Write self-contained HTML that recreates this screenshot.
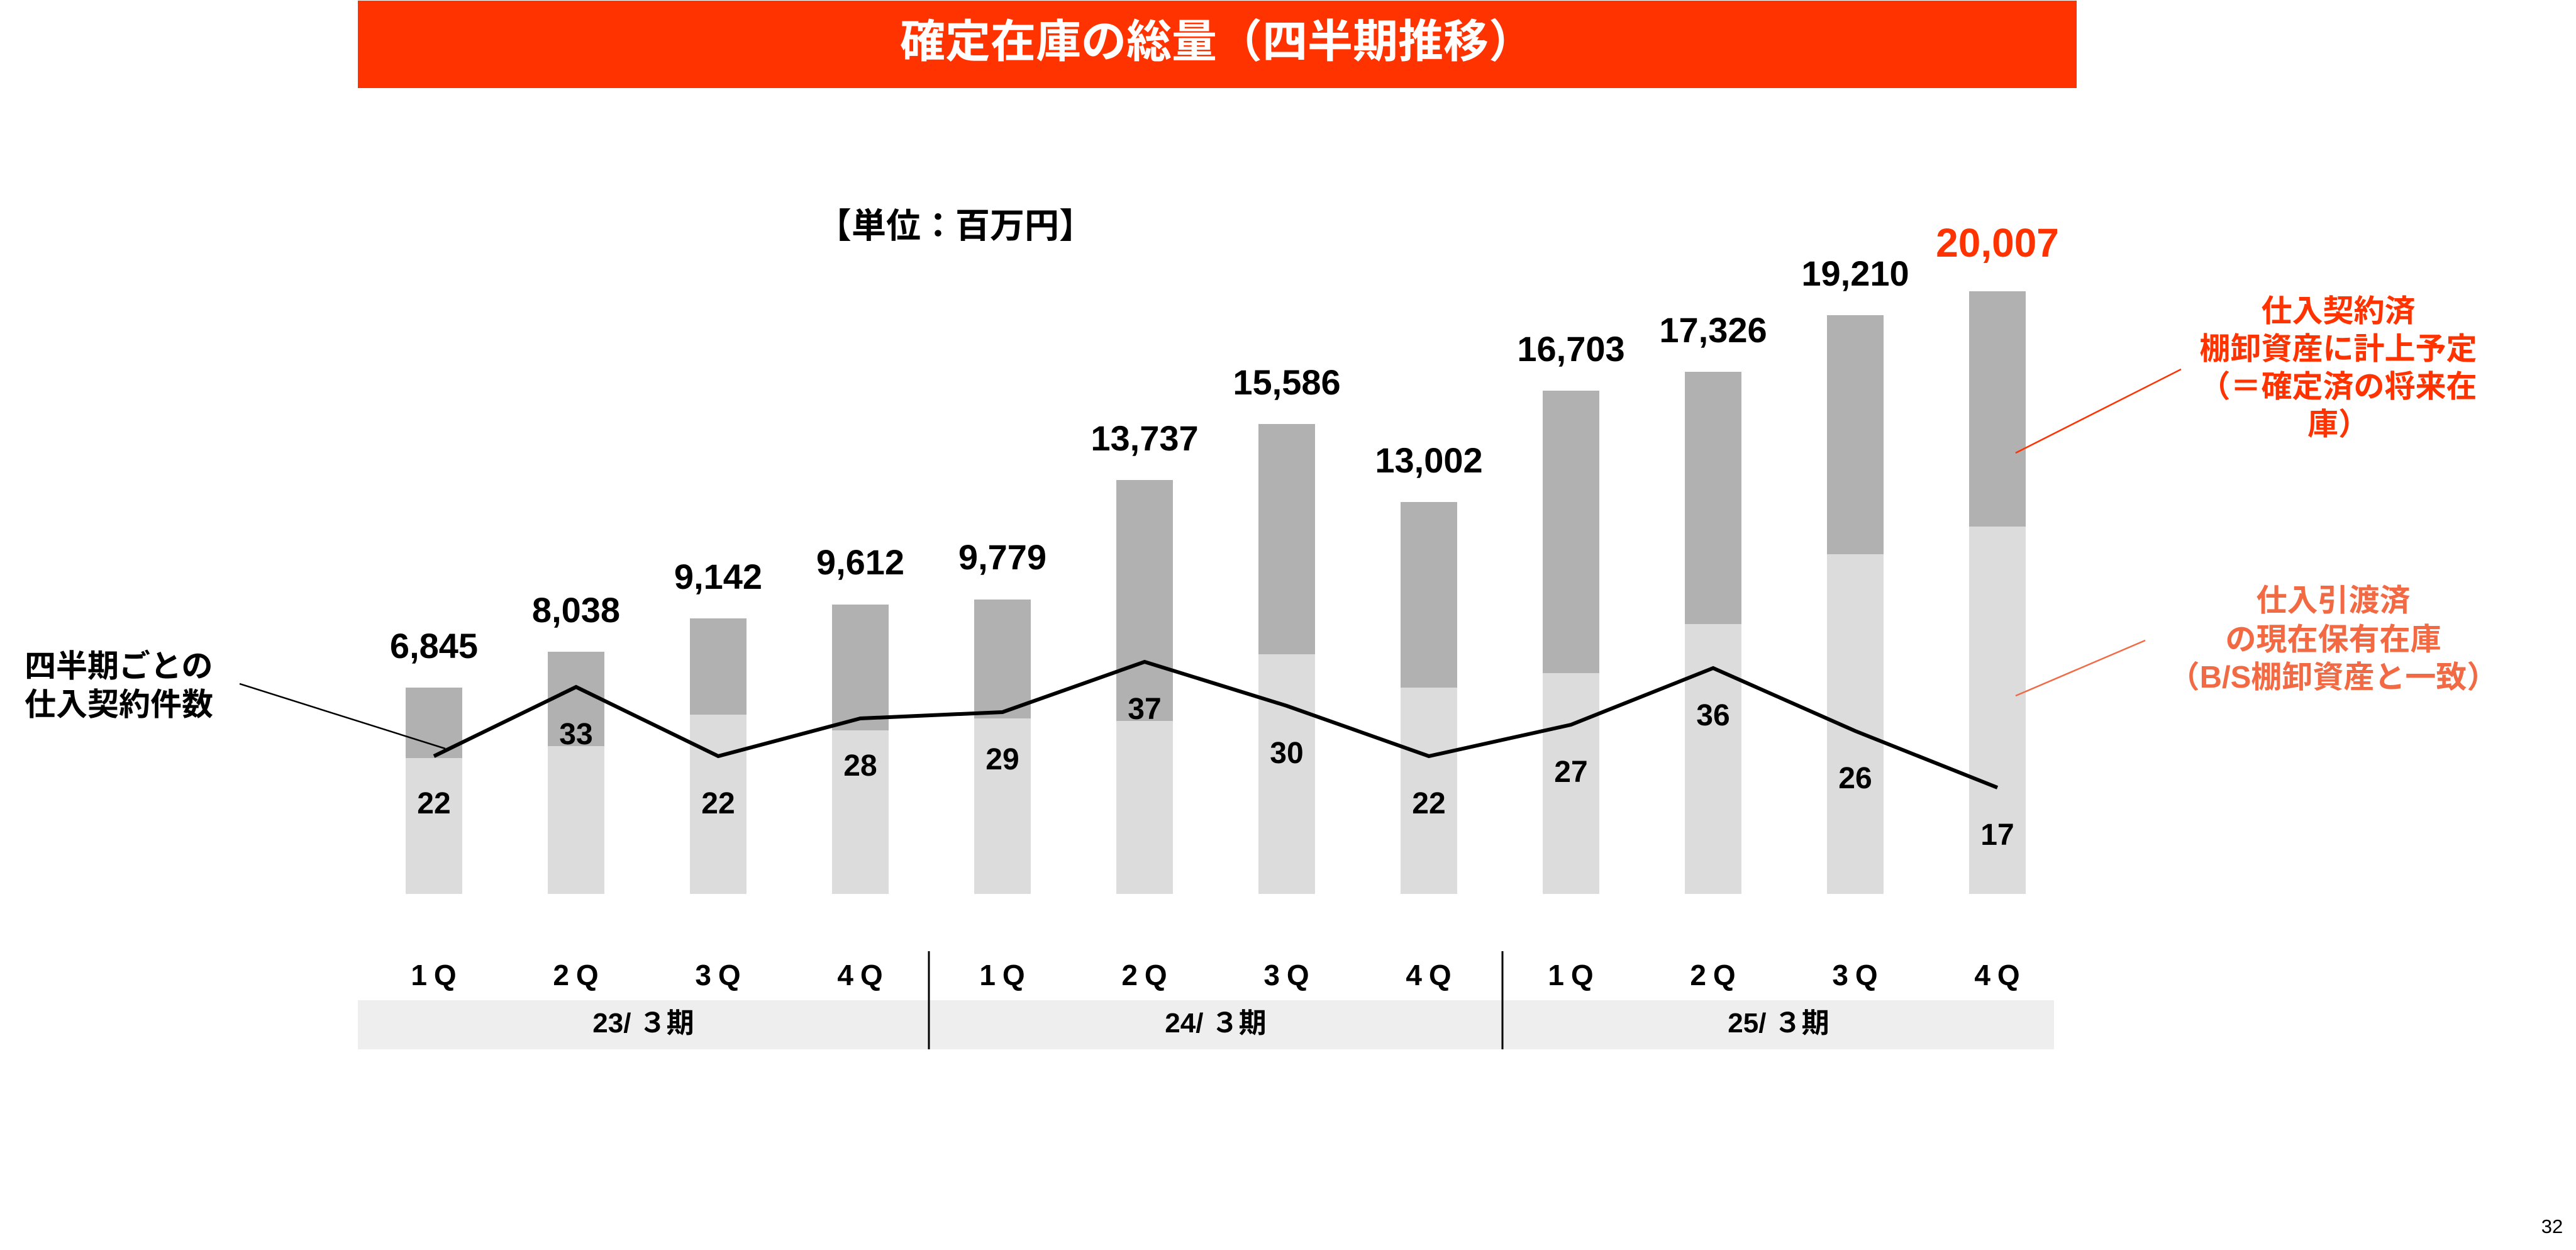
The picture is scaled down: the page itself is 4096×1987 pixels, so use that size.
<!DOCTYPE html>
<html>
<head>
<meta charset="utf-8">
<style>
html,body{margin:0;padding:0;background:#fff;}
svg{display:block;}
text{font-family:"Liberation Sans","Noto Sans CJK JP",sans-serif;font-weight:bold;}
</style>
</head>
<body>
<svg width="4096" height="1987" viewBox="0 0 4096 1987" xmlns="http://www.w3.org/2000/svg">
<rect x="0" y="0" width="4096" height="1987" fill="#ffffff"/>
<!-- Title bar -->
<rect x="569" y="1" width="2733" height="139" fill="#ff3300"/>
<text x="1935" y="91" font-size="72" fill="#ffffff" text-anchor="middle">確定在庫の総量（四半期推移）</text>

<!-- unit -->
<text x="1299" y="378" font-size="55" fill="#000">【単位：百万円】</text>

<!-- Bars: dark (total) then light (lower) -->
<g fill="#b1b1b1">
<rect x="645" y="1093" width="90" height="328"/>
<rect x="871" y="1036" width="90" height="385"/>
<rect x="1097" y="983" width="90" height="438"/>
<rect x="1323" y="961" width="90" height="460"/>
<rect x="1549" y="953" width="90" height="468"/>
<rect x="1775" y="763" width="90" height="658"/>
<rect x="2001" y="674" width="90" height="747"/>
<rect x="2227" y="798" width="90" height="623"/>
<rect x="2453" y="621" width="90" height="800"/>
<rect x="2679" y="591" width="90" height="830"/>
<rect x="2905" y="501" width="90" height="920"/>
<rect x="3131" y="463" width="90" height="958"/>
</g>
<g fill="#dcdcdc">
<rect x="645" y="1205" width="90" height="216"/>
<rect x="871" y="1186" width="90" height="235"/>
<rect x="1097" y="1136" width="90" height="285"/>
<rect x="1323" y="1161" width="90" height="260"/>
<rect x="1549" y="1142" width="90" height="279"/>
<rect x="1775" y="1146" width="90" height="275"/>
<rect x="2001" y="1040" width="90" height="381"/>
<rect x="2227" y="1093" width="90" height="328"/>
<rect x="2453" y="1070" width="90" height="351"/>
<rect x="2679" y="992" width="90" height="429"/>
<rect x="2905" y="881" width="90" height="540"/>
<rect x="3131" y="837" width="90" height="584"/>
</g>

<!-- Total value labels -->
<g font-size="56" fill="#000" text-anchor="middle">
<text x="690" y="1046">6,845</text>
<text x="916" y="989">8,038</text>
<text x="1142" y="936">9,142</text>
<text x="1368" y="913">9,612</text>
<text x="1594" y="905">9,779</text>
<text x="1820" y="716">13,737</text>
<text x="2046" y="627">15,586</text>
<text x="2272" y="751">13,002</text>
<text x="2498" y="574">16,703</text>
<text x="2724" y="544">17,326</text>
<text x="2950" y="454">19,210</text>
</g>
<text x="3176" y="408" font-size="64" fill="#ff3300" text-anchor="middle">20,007</text>

<!-- Left annotation -->
<text x="39" y="1076" font-size="50" fill="#000">四半期ごとの</text>
<text x="39" y="1137" font-size="50" fill="#000">仕入契約件数</text>
<line x1="381" y1="1087" x2="708" y2="1190" stroke="#000" stroke-width="2.5"/>

<!-- Line series -->
<polyline fill="none" stroke="#000" stroke-width="6" stroke-linejoin="miter"
 points="690,1202 916,1092 1142,1202 1368,1142 1594,1132 1820,1052 2046,1122 2272,1202 2498,1152 2724,1062 2950,1162 3176,1252"/>

<!-- Line labels -->
<g font-size="48" fill="#000" text-anchor="middle">
<text x="690" y="1293">22</text>
<text x="916" y="1183">33</text>
<text x="1142" y="1293">22</text>
<text x="1368" y="1233">28</text>
<text x="1594" y="1223">29</text>
<text x="1820" y="1143">37</text>
<text x="2046" y="1213">30</text>
<text x="2272" y="1293">22</text>
<text x="2498" y="1243">27</text>
<text x="2724" y="1153">36</text>
<text x="2950" y="1253">26</text>
<text x="3176" y="1343">17</text>
</g>

<!-- Right annotations -->
<g font-size="49" fill="#ff3300" text-anchor="middle">
<text x="3718" y="511">仕入契約済</text>
<text x="3718" y="571">棚卸資産に計上予定</text>
<text x="3718" y="631">（＝確定済の将来在</text>
<text x="3718" y="691">庫）</text>
</g>
<line x1="3468" y1="587" x2="3205" y2="720" stroke="#ff3300" stroke-width="2.5"/>

<g font-size="49" fill="#f26a44" text-anchor="middle">
<text x="3710" y="971">仕入引渡済</text>
<text x="3710" y="1033">の現在保有在庫</text>
<text x="3710" y="1093">（B/S棚卸資産と一致）</text>
</g>
<line x1="3411" y1="1018" x2="3205" y2="1106" stroke="#f26a44" stroke-width="2.5"/>

<!-- Category axis -->
<rect x="569" y="1590" width="2697" height="78" fill="#eeeeee"/>
<g font-size="46" fill="#000" text-anchor="middle" letter-spacing="11">
<text x="695" y="1566">1Q</text>
<text x="921" y="1566">2Q</text>
<text x="1147" y="1566">3Q</text>
<text x="1373" y="1566">4Q</text>
<text x="1599" y="1566">1Q</text>
<text x="1825" y="1566">2Q</text>
<text x="2051" y="1566">3Q</text>
<text x="2277" y="1566">4Q</text>
<text x="2503" y="1566">1Q</text>
<text x="2729" y="1566">2Q</text>
<text x="2955" y="1566">3Q</text>
<text x="3181" y="1566">4Q</text>
</g>
<line x1="1477" y1="1512" x2="1477" y2="1668" stroke="#000" stroke-width="3"/>
<line x1="2389" y1="1512" x2="2389" y2="1668" stroke="#000" stroke-width="3"/>
<g font-size="44" fill="#000" text-anchor="middle">
<text x="1023" y="1641">23/ ３期</text>
<text x="1933" y="1641">24/ ３期</text>
<text x="2828" y="1641">25/ ３期</text>
</g>

<!-- page number -->
<text x="4058" y="1960" font-size="31" fill="#000" text-anchor="middle" style="font-weight:normal">32</text>
</svg>
</body>
</html>
